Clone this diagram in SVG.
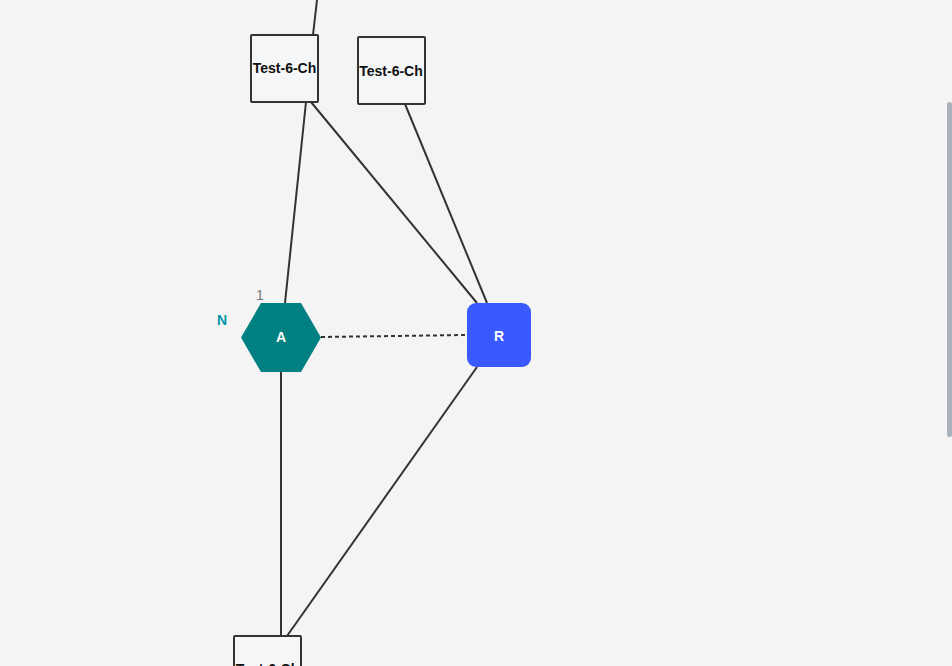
<svg xmlns="http://www.w3.org/2000/svg" width="952" height="666" viewBox="0 0 952 666">
  <style>
    .edge { stroke: #333333; stroke-width: 2; fill: none; }
    .dashed { stroke-dasharray: 4 3; }
    .box { fill: #f5f6f8; stroke: #333333; stroke-width: 2; }
    .boxlabel { font-family: "Liberation Sans", Arial, sans-serif; font-size: 14px; font-weight: bold; fill: #111111; text-anchor: middle; }
    .nodelabel { font-family: "Liberation Sans", Arial, sans-serif; font-size: 14px; font-weight: bold; fill: #ffffff; text-anchor: middle; }
  </style>
  <rect width="952" height="666" fill="#f4f4f4"/>

  <g id="connectors">
    <line class="edge" x1="317" y1="0" x2="313" y2="35"/>
    <line class="edge" x1="306" y1="102" x2="285" y2="303"/>
    <line class="edge" x1="311" y1="102" x2="477" y2="303"/>
    <line class="edge" x1="405" y1="104" x2="487" y2="303"/>
    <line class="edge dashed" x1="321" y1="337" x2="467" y2="335"/>
    <line class="edge" x1="281" y1="372" x2="281" y2="636"/>
    <line class="edge" x1="477" y1="367" x2="287" y2="636"/>
  </g>

  <g id="box-top-left">
    <rect class="box" x="251" y="35" width="67" height="67" rx="1"/>
    <text class="boxlabel" x="284.5" y="73">Test-6-Ch</text>
  </g>

  <g id="box-top-right">
    <rect class="box" x="358" y="37" width="67" height="67" rx="1"/>
    <text class="boxlabel" x="391" y="76">Test-6-Ch</text>
  </g>

  <g id="box-bottom">
    <rect class="box" x="234" y="636" width="67" height="67" rx="1"/>
    <text class="boxlabel" x="267.5" y="673.5">Test-6-Ch</text>
  </g>

  <g id="node-a">
    <polygon points="261,303 301,303 321,337.5 301,372 261,372 241,337.5" fill="#008080"/>
    <text class="nodelabel" x="281" y="342">A</text>
    <text x="222" y="325" font-family="Liberation Sans, Arial, sans-serif" font-size="14" font-weight="bold" fill="#0097a7" text-anchor="middle">N</text>
    <text x="260" y="300" font-family="Liberation Sans, Arial, sans-serif" font-size="14" fill="#777777" text-anchor="middle">1</text>
  </g>

  <g id="node-r">
    <rect x="467" y="303" width="64" height="64" rx="9" fill="#3a59ff"/>
    <text class="nodelabel" x="499" y="341">R</text>
  </g>

  <rect x="947" y="102" width="5" height="335" rx="2" fill="#a9b1bb"/>
</svg>
